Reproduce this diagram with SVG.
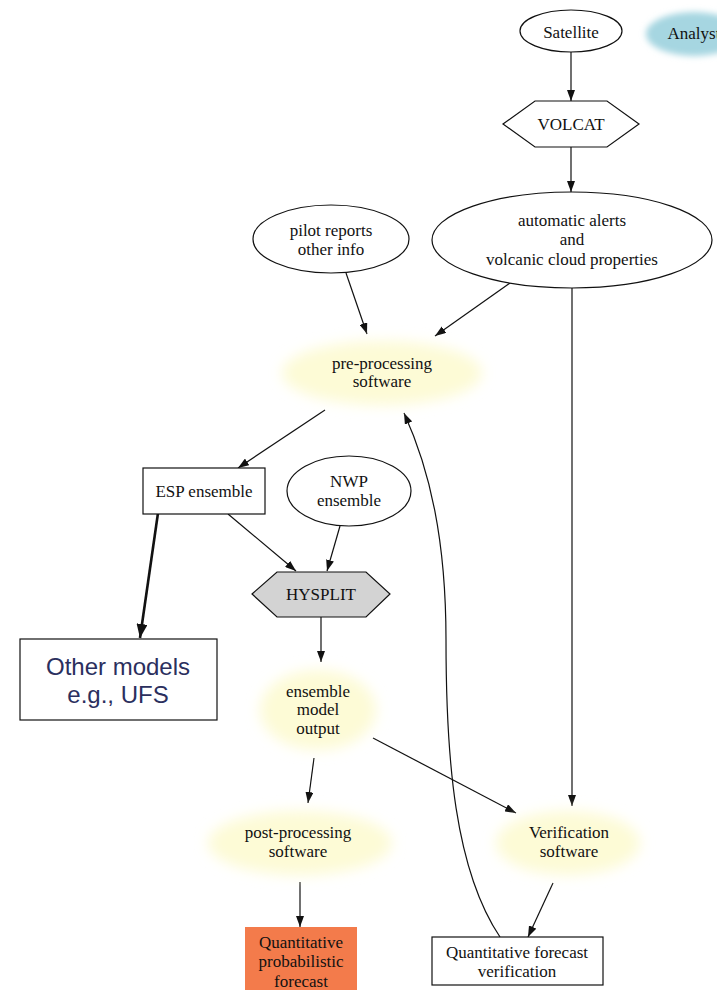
<svg xmlns="http://www.w3.org/2000/svg" width="717" height="990" viewBox="0 0 717 990">
<style>
.t{font-family:"Liberation Serif","Times New Roman",serif;font-size:17px;fill:#111;text-anchor:middle}
.s{font-family:"Liberation Sans",Arial,sans-serif;font-size:24px;fill:#2b2f5e;text-anchor:middle}
.n{fill:#fff;stroke:#111;stroke-width:1.2}
.blob{fill:#fdfbd6}
.e{fill:none;stroke:#111;stroke-width:1.2;marker-end:url(#ah)}
.ek{fill:none;stroke:#111;stroke-width:2.6;marker-end:url(#ahk)}
</style>
<defs>
<marker id="ah" markerUnits="userSpaceOnUse" markerWidth="11" markerHeight="8" refX="11" refY="4" orient="auto"><path d="M0,0 L11,4 L0,8 z" fill="#111"/></marker>
<marker id="ahk" markerUnits="userSpaceOnUse" markerWidth="14" markerHeight="11" refX="14" refY="5.5" orient="auto"><path d="M0,0 L14,5.5 L0,11 z" fill="#111"/></marker>
<filter id="soft" x="-30%" y="-40%" width="160%" height="180%"><feGaussianBlur stdDeviation="7"/></filter>
<filter id="soft2" x="-30%" y="-40%" width="160%" height="180%"><feGaussianBlur stdDeviation="3"/></filter>
</defs>
<rect width="717" height="990" fill="#fff"/>

<g id="edges">
<path class="e" d="M571,52 L571,101"/>
<path class="e" d="M571,147 L571,192"/>
<path class="e" d="M346,273 L367,334"/>
<path class="e" d="M510,283 L435,336"/>
<path class="e" d="M572,288 L572,806"/>
<path class="e" d="M325,410 L238,468"/>
<path class="e" d="M228,514 L296,571"/>
<path class="e" d="M340,526 L327,571"/>
<path class="ek" d="M158,513 L140,638"/>
<path class="e" d="M321,617 L321,662"/>
<path class="e" d="M314,758 L308,803"/>
<path class="e" d="M373,738 L516,813"/>
<path class="e" d="M300,882 L300,927"/>
<path class="e" d="M553,883 L528,937"/>
<path class="e" d="M500,937 C455,870 446,760 446,640 C446,540 430,470 404,413"/>
</g>

<g id="satellite">
<ellipse class="n" cx="571" cy="31" rx="51" ry="21"/>
<text class="t" x="571" y="38">Satellite</text>
</g>

<g id="analyst">
<ellipse cx="694" cy="34" rx="48" ry="22" fill="#a6d6e1" filter="url(#soft2)"/>
<text class="t" x="694" y="39">Analyst</text>
</g>

<g id="volcat">
<polygon class="n" points="503,124 535,101 607,101 639,124 607,147 535,147"/>
<text class="t" x="571" y="130">VOLCAT</text>
</g>

<g id="alerts">
<ellipse class="n" cx="572" cy="240" rx="140" ry="48"/>
<text class="t" x="572" y="226">automatic alerts</text>
<text class="t" x="572" y="245">and</text>
<text class="t" x="572" y="265">volcanic cloud properties</text>
</g>

<g id="pilot">
<ellipse class="n" cx="331" cy="239" rx="78" ry="34"/>
<text class="t" x="331" y="236">pilot reports</text>
<text class="t" x="331" y="255">other info</text>
</g>

<g id="preprocessing">
<ellipse class="blob" cx="382" cy="373" rx="100" ry="32" filter="url(#soft)"/>
<text class="t" x="382" y="369">pre-processing</text>
<text class="t" x="382" y="387">software</text>
</g>

<g id="esp">
<rect class="n" x="143" y="468" width="122" height="46"/>
<text class="t" x="204" y="497">ESP ensemble</text>
</g>

<g id="nwp">
<ellipse class="n" cx="349" cy="491" rx="62" ry="35"/>
<text class="t" x="349" y="487">NWP</text>
<text class="t" x="349" y="506">ensemble</text>
</g>

<g id="hysplit">
<polygon points="252,594 277,572 366,572 390,594 366,617 277,617" fill="#d3d3d3" stroke="#111" stroke-width="1.2"/>
<text class="t" x="321" y="600">HYSPLIT</text>
</g>

<g id="othermodels">
<rect class="n" x="20" y="639" width="197" height="81"/>
<text class="s" x="118" y="675">Other models</text>
<text class="s" x="118" y="703">e.g., UFS</text>
</g>

<g id="ensembleoutput">
<ellipse class="blob" cx="318" cy="710" rx="58" ry="40" filter="url(#soft)"/>
<text class="t" x="318" y="697">ensemble</text>
<text class="t" x="318" y="715">model</text>
<text class="t" x="318" y="734">output</text>
</g>

<g id="postprocessing">
<ellipse class="blob" cx="300" cy="843" rx="92" ry="32" filter="url(#soft)"/>
<text class="t" x="298" y="838">post-processing</text>
<text class="t" x="298" y="857">software</text>
</g>

<g id="verification">
<ellipse class="blob" cx="568" cy="843" rx="72" ry="32" filter="url(#soft)"/>
<text class="t" x="569" y="838">Verification</text>
<text class="t" x="569" y="857">software</text>
</g>

<g id="qpf">
<rect x="245" y="927" width="112" height="70" fill="#f37b4b"/>
<text class="t" x="301" y="948">Quantitative</text>
<text class="t" x="301" y="967">probabilistic</text>
<text class="t" x="301" y="987">forecast</text>
</g>

<g id="qfv">
<rect class="n" x="432" y="937" width="171" height="48"/>
<text class="t" x="517" y="958">Quantitative forecast</text>
<text class="t" x="517" y="977">verification</text>
</g>
</svg>
